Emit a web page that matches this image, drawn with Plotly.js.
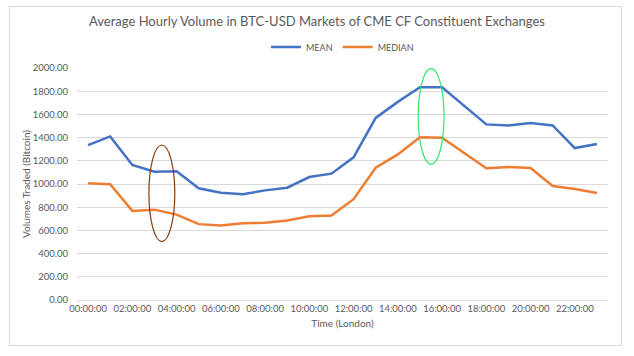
<!DOCTYPE html>
<html>
<head>
<meta charset="utf-8">
<script src="https://cdn.plot.ly/plotly-3.0.1.min.js"></script>
<style>
html,body{margin:0;padding:0;background:#fff;}
#frame{position:absolute;left:9px;top:6px;width:613px;height:340px;border:1px solid #d9d9d9;box-sizing:border-box;}
#chart{position:absolute;left:0;top:0;width:634px;height:356px;}
</style>
</head>
<body>
<div id="frame"></div>
<div id="chart"></div>
<script>
const hours = ["00:00:00","01:00:00","02:00:00","03:00:00","04:00:00","05:00:00","06:00:00","07:00:00",
  "08:00:00","09:00:00","10:00:00","11:00:00","12:00:00","13:00:00","14:00:00","15:00:00",
  "16:00:00","17:00:00","18:00:00","19:00:00","20:00:00","21:00:00","22:00:00","23:00:00"];
const meanVals = [1335,1410,1164,1106,1109,963,925,912,945,968,1060,1089,1230,1570,1708,1834,
  1834,1671,1514,1505,1525,1505,1310,1344];
const medianVals = [1006,998,768,779,736,654,642,662,665,685,722,728,869,1140,1255,1404,
  1398,1266,1135,1146,1138,983,957,923];
const xTickLabels = ["00:00:00","02:00:00","04:00:00","06:00:00","08:00:00","10:00:00",
  "12:00:00","14:00:00","16:00:00","18:00:00","20:00:00","22:00:00"];
const yTicks = [0,200,400,600,800,1000,1200,1400,1600,1800,2000];

const FONT = "Lato, 'Open Sans', sans-serif";
const traces = [
  {x: hours, y: meanVals, name: "MEAN", type: "scatter", mode: "lines",
   line: {color: "#4472C4", width: 2.5}},
  {x: hours, y: medianVals, name: "MEDIAN", type: "scatter", mode: "lines",
   line: {color: "#ED7D31", width: 2.5}}
];
const layout = {
  width: 634, height: 356,
  paper_bgcolor: "rgba(0,0,0,0)", plot_bgcolor: "rgba(0,0,0,0)",
  margin: {l: 77, r: 26, t: 68, b: 56},
  font: {family: FONT, color: "#595959", size: 10},
  title: {text: "Average Hourly Volume in BTC-USD Markets of CME CF Constituent Exchanges",
    font: {family: FONT, size: 13, color: "#595959"}, x: 0.5, xanchor: "center", y: 0.94, yanchor: "middle"},
  showlegend: true,
  legend: {orientation: "h", x: 0.5, xanchor: "center", y: 1.09, yanchor: "middle",
    font: {size: 9, color: "#595959"}, itemwidth: 30, tracegroupgap: 0},
  xaxis: {type: "category", range: [-0.5, 23.5], tickmode: "array", tickvals: xTickLabels,
    ticktext: xTickLabels, showgrid: false, showline: true, linecolor: "#d9d9d9", linewidth: 1,
    ticks: "", tickfont: {size: 9.5, color: "#595959"}, zeroline: false,
    title: {text: "Time (London)", font: {size: 10, color: "#595959"}, standoff: 6}},
  yaxis: {range: [0, 2000], tickvals: yTicks, tickformat: ".2f", showgrid: true,
    gridcolor: "#d9d9d9", gridwidth: 1, zeroline: false, showline: false, ticks: "",
    ticklabelstandoff: 8, tickfont: {size: 9.5, color: "#595959"},
    title: {text: "Volumes Traded (Bitcoin)", font: {size: 10, color: "#595959"}, standoff: 0}},
  shapes: [
    {type: "circle", xref: "x", yref: "y", x0: 2.75, x1: 3.92, y0: 504, y1: 1336,
     line: {color: "#843C0C", width: 1.2}},
    {type: "circle", xref: "x", yref: "y", x0: 14.92, x1: 16.09, y0: 1170, y1: 1995,
     line: {color: "#2EE66B", width: 1.2}}
  ]
};
Plotly.newPlot("chart", traces, layout, {displayModeBar: false, staticPlot: true});
</script>
</body>
</html>
